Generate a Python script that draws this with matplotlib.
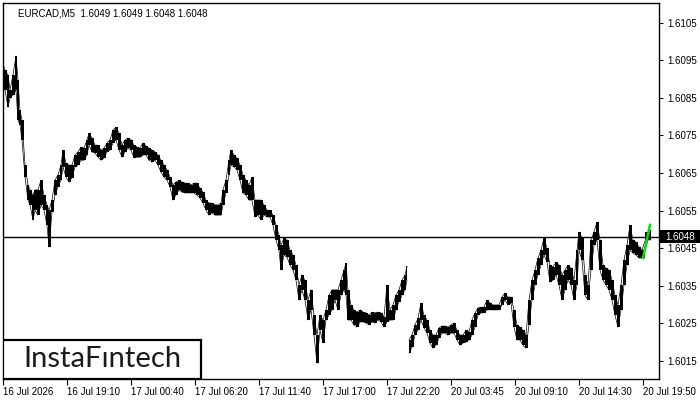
import matplotlib
matplotlib.use("Agg")
import matplotlib.pyplot as plt
from matplotlib.patches import Rectangle

#EURCAD M5 price (bar number, high, low)
bars = [0, 2, 5, 7, 10, 13, 15, 17, 19, 22, 25, 27, 30, 32, 35, 38, 41, 44, 46, 49,
        52, 55, 58, 60, 63, 66, 69, 72, 75, 78, 81, 84, 86, 89, 92, 95, 98, 101, 104, 107,
        110, 113, 116, 119, 122, 125, 128, 131, 134, 137, 140, 143, 146, 149, 152, 155, 158, 161, 164, 167,
        170, 173, 176, 179, 182, 185, 188, 191, 194, 197, 200, 203, 206, 209, 212, 215, 218, 220, 223, 226,
        228, 231, 234, 237, 240, 243, 246, 249, 252, 255, 258, 261, 264, 267, 270, 273, 276, 278, 281, 284,
        287, 290, 293, 296, 299, 302, 305, 308, 311, 314, 317, 320, 323, 326, 329, 332, 335, 338, 341, 343,
        345, 348, 351, 354, 357, 360, 363, 366, 369, 372, 375, 378, 381, 384, 387, 390, 393, 396, 399, 402,
        404,
        406, 409, 412, 415, 418, 421, 424, 427, 430, 433, 436, 439, 442, 445, 448, 451, 454, 457, 460, 463,
        466, 469, 472, 475, 478, 481, 484, 487, 490, 493, 496, 499, 502, 505, 508, 511, 514, 517, 520, 523,
        526, 529, 532, 535, 538, 541, 544, 547, 550, 553, 556, 559, 562, 565, 568, 571, 574, 576, 579, 582,
        585, 588, 591, 594, 597, 600, 603, 606, 609, 612, 615, 618, 621, 624, 627, 630, 633, 636, 639, 645,
        648]
high = [1.60942, 1.60924, 1.60911, 1.60871, 1.60911, 1.60961, 1.60897, 1.60817, 1.60791, 1.60671,
        1.60618, 1.60605, 1.60591, 1.60605, 1.60605, 1.60631, 1.60591, 1.60565, 1.60551, 1.60578,
        1.60631, 1.60645, 1.60671, 1.60711, 1.60676, 1.60671, 1.60671, 1.60698, 1.60706, 1.60719,
        1.60716, 1.60738, 1.60756, 1.60743, 1.60724, 1.60724, 1.60711, 1.60716, 1.60730, 1.60738,
        1.60764, 1.60772, 1.60756, 1.60724, 1.60738, 1.60743, 1.60738, 1.60724, 1.60719, 1.60716,
        1.60730, 1.60722, 1.60716, 1.60711, 1.60706, 1.60698, 1.60684, 1.60671, 1.60658, 1.60639,
        1.60618, 1.60626, 1.60631, 1.60626, 1.60623, 1.60623, 1.60618, 1.60623, 1.60623, 1.60610,
        1.60599, 1.60578, 1.60570, 1.60570, 1.60565, 1.60565, 1.60570, 1.60605, 1.60631, 1.60684,
        1.60711, 1.60698, 1.60690, 1.60671, 1.60645, 1.60631, 1.60618, 1.60639, 1.60578, 1.60578,
        1.60578, 1.60565, 1.60551, 1.60551, 1.60538, 1.60511, 1.60485, 1.60458, 1.60477, 1.60472,
        1.60445, 1.60432, 1.60405, 1.60352, 1.60379, 1.60365, 1.60312, 1.60339, 1.60272, 1.60219,
        1.60272, 1.60259, 1.60286, 1.60325, 1.60339, 1.60339, 1.60339, 1.60365, 1.60392, 1.60410,
        1.60339, 1.60299, 1.60286, 1.60280, 1.60286, 1.60280, 1.60278, 1.60272, 1.60280, 1.60278,
        1.60280, 1.60278, 1.60267, 1.60352, 1.60286, 1.60299, 1.60325, 1.60339, 1.60365, 1.60379,
        1.60402,
        1.60206, 1.60219, 1.60246, 1.60264, 1.60304, 1.60272, 1.60259, 1.60232, 1.60219, 1.60219,
        1.60238, 1.60243, 1.60243, 1.60240, 1.60246, 1.60251, 1.60232, 1.60219, 1.60219, 1.60232,
        1.60227, 1.60259, 1.60278, 1.60291, 1.60293, 1.60293, 1.60312, 1.60304, 1.60299, 1.60299,
        1.60299, 1.60320, 1.60331, 1.60320, 1.60320, 1.60286, 1.60246, 1.60240, 1.60232, 1.60219,
        1.60312, 1.60365, 1.60392, 1.60424, 1.60445, 1.60477, 1.60450, 1.60405, 1.60400, 1.60413,
        1.60405, 1.60379, 1.60392, 1.60405, 1.60397, 1.60365, 1.60445, 1.60493, 1.60477, 1.60379,
        1.60352, 1.60472, 1.60493, 1.60519, 1.60472, 1.60405, 1.60397, 1.60392, 1.60365, 1.60325,
        1.60299, 1.60352, 1.60418, 1.60458, 1.60511, 1.60472, 1.60466, 1.60453, 1.60445, 1.60493,
        1.60498]
low = [1.60871, 1.60871, 1.60825, 1.60849, 1.60857, 1.60871, 1.60791, 1.60778, 1.60738, 1.60639,
       1.60578, 1.60565, 1.60525, 1.60551, 1.60538, 1.60565, 1.60551, 1.60511, 1.60453, 1.60546,
       1.60591, 1.60613, 1.60631, 1.60666, 1.60639, 1.60626, 1.60637, 1.60666, 1.60671, 1.60684,
       1.60684, 1.60698, 1.60724, 1.60706, 1.60703, 1.60692, 1.60684, 1.60690, 1.60706, 1.60711,
       1.60730, 1.60738, 1.60711, 1.60692, 1.60706, 1.60716, 1.60711, 1.60690, 1.60692, 1.60692,
       1.60698, 1.60698, 1.60684, 1.60679, 1.60684, 1.60671, 1.60652, 1.60639, 1.60631, 1.60613,
       1.60578, 1.60591, 1.60605, 1.60599, 1.60597, 1.60597, 1.60597, 1.60597, 1.60591, 1.60583,
       1.60570, 1.60551, 1.60538, 1.60544, 1.60538, 1.60538, 1.60538, 1.60565, 1.60597, 1.60645,
       1.60671, 1.60666, 1.60658, 1.60631, 1.60597, 1.60591, 1.60578, 1.60578, 1.60533, 1.60538,
       1.60525, 1.60538, 1.60533, 1.60533, 1.60511, 1.60472, 1.60445, 1.60392, 1.60432, 1.60426,
       1.60405, 1.60392, 1.60365, 1.60312, 1.60339, 1.60312, 1.60259, 1.60286, 1.60219, 1.60144,
       1.60232, 1.60198, 1.60259, 1.60272, 1.60286, 1.60312, 1.60286, 1.60325, 1.60339, 1.60325,
       1.60259, 1.60259, 1.60246, 1.60240, 1.60254, 1.60254, 1.60251, 1.60246, 1.60254, 1.60251,
       1.60259, 1.60254, 1.60240, 1.60254, 1.60259, 1.60259, 1.60286, 1.60307, 1.60325, 1.60339,
       1.60365,
       1.60171, 1.60187, 1.60219, 1.60232, 1.60259, 1.60238, 1.60224, 1.60198, 1.60184, 1.60192,
       1.60211, 1.60224, 1.60224, 1.60219, 1.60224, 1.60224, 1.60206, 1.60192, 1.60198, 1.60200,
       1.60206, 1.60219, 1.60240, 1.60272, 1.60278, 1.60278, 1.60286, 1.60286, 1.60286, 1.60286,
       1.60286, 1.60299, 1.60312, 1.60299, 1.60304, 1.60240, 1.60206, 1.60206, 1.60192, 1.60184,
       1.60246, 1.60312, 1.60352, 1.60379, 1.60405, 1.60432, 1.60413, 1.60360, 1.60365, 1.60379,
       1.60352, 1.60312, 1.60339, 1.60365, 1.60352, 1.60312, 1.60352, 1.60445, 1.60418, 1.60325,
       1.60312, 1.60392, 1.60458, 1.60472, 1.60392, 1.60365, 1.60352, 1.60339, 1.60312, 1.60272,
       1.60240, 1.60286, 1.60352, 1.60405, 1.60445, 1.60437, 1.60432, 1.60424, 1.60424, 1.60472,
       1.60472]
gap_after = 141  # weekend gap: first bar of Monday

# pattern line (green) and current price
flag_bars = [640, 647]
flag_price = [1.60424, 1.60512]
last_price = 1.6048

price_ticks = [1.6015, 1.6025, 1.6035, 1.6045, 1.6055, 1.6065, 1.6075, 1.6085, 1.6095, 1.6105]
time_ticks = [0, 64, 128, 192, 256, 320, 384, 448, 512, 576, 640]
time_labels = ['16 Jul 2026', '16 Jul 19:10', '17 Jul 00:40', '17 Jul 06:20', '17 Jul 11:40',
               '17 Jul 17:00', '17 Jul 22:20', '20 Jul 03:45', '20 Jul 09:10', '20 Jul 14:30',
               '20 Jul 19:50']

plt.rcParams['font.family'] = ['Liberation Sans', 'DejaVu Sans']

fig = plt.figure(figsize=(7, 4), dpi=100)
ax = fig.add_axes([3 / 700, 21 / 400, 656 / 700, 376 / 400])

for a, b in [(0, gap_after), (gap_after, len(bars))]:
    ax.fill_between(bars[a:b], low[a:b], high[a:b], step='mid', color='black', linewidth=0)
    # keep steep moves joined up
    ax.plot(bars[a:b], high[a:b], color='black', linewidth=0.5)
    ax.plot(bars[a:b], low[a:b], color='black', linewidth=0.5)

ax.axhline(last_price, color='black', linewidth=1)
ax.plot(flag_bars, flag_price, color='#00e000', linewidth=1.8)

ax.set_xlim(0, 656)
ax.set_ylim(1.601021, 1.611021)

ax.yaxis.tick_right()
ax.set_yticks(price_ticks)
ax.set_yticklabels(['%.4f' % p for p in price_ticks])
ax.set_xticks(time_ticks)
ax.set_xticklabels(time_labels, ha='left')
ax.tick_params(axis='y', length=3, width=0.8, pad=3, labelsize=7)
ax.tick_params(axis='x', length=4, width=0.8, pad=2, labelsize=7)
for s in ax.spines.values():
    s.set_linewidth(1)

# current price box on the axis
ax.add_patch(Rectangle((1.0, last_price - 0.000175), 0.0625, 0.00035, transform=ax.get_yaxis_transform(),
                       facecolor='black', edgecolor='none', clip_on=False))
ax.text(1.009, last_price, '%.4f' % last_price, transform=ax.get_yaxis_transform(), color='white',
        fontsize=7, va='center', ha='left')

ax.text(0.023, 0.985, 'EURCAD,M5  1.6049 1.6049 1.6048 1.6048', transform=ax.transAxes,
        fontsize=7, va='top', ha='left')

# logo
ax.add_patch(Rectangle((0, 0), 0.302, 0.104, transform=ax.transAxes, facecolor='white',
                       edgecolor='black', linewidth=1.6, zorder=5))
ax.text(0.151, 0.052, 'InstaFıntech', transform=ax.transAxes, fontsize=21, family=['Lato', 'DejaVu Sans'],
        color='#1a1a1a', ha='center', va='center', zorder=6)

fig.savefig('out.png', dpi=100)
